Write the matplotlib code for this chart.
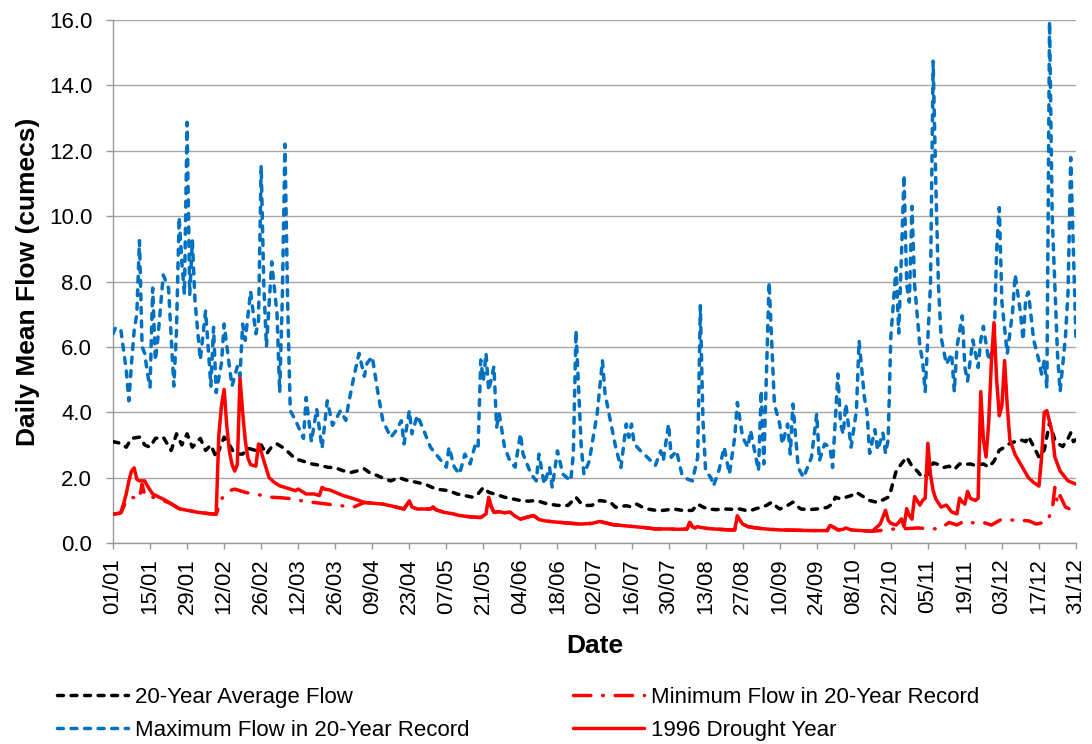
import numpy as np
import matplotlib.pyplot as plt

plt.rcParams['font.family'] = ['Liberation Sans', 'DejaVu Sans']

# day of year (0 = 01/01) and daily mean flow in cumecs
avg_day = [
    0, 3, 5, 7, 10, 12, 14, 16, 19, 22,
    24, 26, 28, 30, 33, 35, 37, 39, 42, 44,
    46, 49, 51, 54, 56, 58, 60, 62, 64, 66,
    69, 72, 75, 78, 81, 84, 87, 90, 92, 95,
    97, 100, 103, 105, 108, 111, 115, 118, 122, 125,
    127, 130, 133, 136, 138, 140, 142, 145, 148, 151,
    154, 157, 160, 164, 168, 172, 175, 177, 179, 181,
    184, 188, 190, 192, 194, 196, 198, 200, 202, 205,
    207, 210, 212, 215, 217, 219, 221, 223, 225, 228,
    231, 234, 237, 239, 241, 243, 245, 247, 249, 251,
    252, 254, 257, 259, 260, 263, 266, 268, 270, 272,
    273, 275, 277, 279, 281, 283, 286, 289, 291, 293,
    294, 296, 298, 300, 302, 304, 306, 308, 310, 312,
    314, 316, 318, 320, 322, 324, 326, 329, 331, 333,
    335, 337, 339, 341, 343, 345, 346, 348, 350, 352,
    354, 356, 358, 359, 361, 362, 363, 364]
avg_flow = [
    3.1, 3.05, 2.93, 3.2, 3.24, 3.0, 2.93, 3.2, 3.24, 2.83,
    3.34, 3.0, 3.34, 2.93, 3.2, 2.83, 3.0, 2.62, 3.24, 3.0,
    2.72, 2.72, 2.9, 2.83, 3.0, 2.72, 2.95, 3.03, 2.93, 2.8,
    2.57, 2.5, 2.42, 2.38, 2.32, 2.3, 2.21, 2.16, 2.2, 2.27,
    2.15, 2.06, 1.95, 1.9, 2.0, 1.92, 1.85, 1.8, 1.65, 1.62,
    1.6, 1.5, 1.45, 1.4, 1.5, 1.7, 1.55, 1.48, 1.4, 1.35,
    1.3, 1.28, 1.3, 1.2, 1.15, 1.15, 1.4, 1.2, 1.15, 1.15,
    1.3, 1.25, 1.09, 1.12, 1.14, 1.1, 1.19, 1.1, 1.04, 1.0,
    0.99, 1.02, 1.04, 1.0, 0.99, 1.0, 1.19, 1.1, 1.04, 1.02,
    1.04, 1.03, 1.04, 1.0, 0.99, 1.05, 1.09, 1.15, 1.25, 1.1,
    1.04, 1.1, 1.25, 1.1, 1.04, 1.02, 1.04, 1.06, 1.09, 1.2,
    1.4, 1.35, 1.4, 1.45, 1.55, 1.45, 1.3, 1.24, 1.32, 1.4,
    1.6, 2.2, 2.42, 2.63, 2.35, 2.2, 2.0, 2.1, 2.45, 2.4,
    2.31, 2.35, 2.25, 2.42, 2.4, 2.42, 2.37, 2.42, 2.32, 2.5,
    2.84, 2.93, 3.05, 3.1, 3.16, 3.1, 3.26, 2.95, 2.63, 2.84,
    3.68, 3.16, 3.0, 2.95, 3.2, 3.37, 3.1, 3.16]

max_day = [
    0, 1, 3, 5, 6, 7, 8, 9, 10, 11,
    12, 13, 14, 15, 16, 17, 19, 21, 22, 23,
    24, 25, 26, 27, 28, 29, 30, 31, 33, 35,
    37, 38, 39, 41, 42, 44, 45, 47, 48, 49,
    50, 52, 54, 55, 56, 57, 58, 60, 62, 63,
    64, 65, 66, 67, 69, 72, 73, 75, 77, 79,
    81, 83, 86, 88, 89, 91, 93, 95, 96, 98,
    100, 102, 105, 107, 109, 110, 112, 113, 115, 117,
    120, 124, 126, 127, 129, 131, 133, 135, 137, 138,
    139, 140, 141, 142, 144, 145, 146, 148, 150, 152,
    154, 155, 158, 160, 161, 163, 165, 166, 168, 170,
    173, 174, 175, 177, 178, 180, 183, 185, 186, 188,
    190, 192, 194, 195, 196, 197, 200, 202, 205, 207,
    208, 210, 211, 213, 215, 217, 219, 221, 222, 223,
    224, 226, 227, 229, 231, 233, 235, 236, 238, 240,
    241, 243, 244, 245, 246, 248, 250, 252, 253, 255,
    256, 257, 259, 261, 264, 266, 267, 269, 271, 272,
    274, 275, 276, 277, 279, 281, 282, 284, 285, 286,
    288, 289, 291, 292, 293, 294, 296, 297, 298, 299,
    300, 301, 302, 303, 305, 306, 307, 309, 310, 311,
    312, 313, 315, 317, 318, 319, 321, 322, 323, 325,
    327, 328, 329, 331, 333, 334, 335, 336, 338, 339,
    340, 341, 343, 344, 345, 346, 348, 350, 351, 352,
    353, 354, 355, 357, 358, 360, 361, 362, 363, 364]
max_flow = [
    6.4, 6.6, 6.5, 5.3, 4.35, 5.5, 6.5, 7.0, 9.25, 6.0,
    5.8, 5.2, 4.76, 7.8, 5.58, 6.3, 8.2, 7.8, 6.3, 4.8,
    6.5, 9.97, 8.6, 7.6, 12.87, 7.6, 9.25, 7.4, 5.6, 7.1,
    4.8, 6.6, 4.6, 5.5, 6.7, 5.4, 4.8, 5.4, 5.1, 6.7,
    6.2, 7.7, 6.4, 6.8, 11.55, 7.9, 6.0, 8.6, 7.0, 4.6,
    7.5, 12.2, 7.4, 4.05, 3.75, 3.2, 4.45, 3.1, 4.1, 2.9,
    4.35, 3.6, 4.05, 3.75, 4.25, 5.07, 5.8, 5.1, 5.5, 5.7,
    4.66, 3.74, 3.23, 3.44, 3.74, 3.03, 4.05, 3.34, 3.9, 3.54,
    2.93, 2.52, 2.32, 2.93, 2.32, 2.11, 2.72, 2.42, 3.03, 2.93,
    5.6, 4.97, 5.8, 4.66, 5.4, 3.54, 3.95, 2.93, 2.52, 2.32,
    3.34, 2.72, 2.11, 1.9, 2.72, 1.8, 2.32, 1.7, 2.82, 2.11,
    1.9, 2.72, 6.5, 2.93, 2.11, 2.5, 3.95, 5.58, 4.56, 3.74,
    2.93, 2.31, 3.64, 3.23, 3.64, 3.03, 2.77, 2.62, 2.37, 2.82,
    2.52, 3.64, 2.62, 2.82, 2.11, 1.96, 1.9, 2.62, 7.26, 3.74,
    2.21, 2.0, 1.75, 2.21, 2.93, 2.11, 3.23, 4.3, 3.23, 2.93,
    3.44, 2.62, 2.21, 4.66, 2.42, 7.98, 4.25, 3.64, 3.03, 3.64,
    2.72, 4.25, 2.31, 2.0, 2.62, 3.95, 2.52, 3.03, 2.93, 2.31,
    5.17, 3.64, 3.33, 4.25, 2.93, 4.05, 6.19, 4.46, 4.0, 2.74,
    3.47, 2.84, 3.37, 2.74, 3.16, 6.3, 8.42, 6.42, 8.74, 11.26,
    7.9, 7.37, 10.3, 7.9, 6.0, 5.58, 4.63, 7.9, 14.74, 11.05,
    7.9, 6.3, 5.47, 5.79, 4.63, 6.0, 6.95, 5.37, 4.95, 6.21,
    5.37, 6.21, 6.63, 5.58, 6.0, 8.95, 10.26, 7.37, 5.79, 6.42,
    7.05, 8.21, 7.05, 6.21, 7.47, 7.68, 6.21, 5.58, 5.16, 5.58,
    4.74, 15.95, 10.0, 5.79, 4.63, 6.3, 7.68, 11.79, 8.95, 6.2]

min_day = [
    0, 3, 4, 5, 7, 10, 11, 12, 15, 19,
    22, 24, 25, 28, 32, 36, 39, 41, 44, 46,
    50, 53, 57, 60, 64, 68, 72, 75, 80, 85,
    91, 95, 98, 102, 106, 110, 112, 113, 115, 118,
    120, 121, 122, 125, 128, 131, 135, 139, 141, 142,
    143, 144, 146, 148, 150, 152, 154, 157, 159, 161,
    163, 166, 169, 173, 177, 181, 184, 186, 189, 193,
    197, 201, 205, 210, 214, 217, 218, 219, 220, 221,
    222, 225, 229, 233, 235, 236, 237, 238, 240, 244,
    248, 252, 258, 264, 270, 271, 272, 274, 276, 277,
    279, 283, 287, 290, 292, 297, 300, 304, 310, 313,
    316, 319, 322, 326, 329, 332, 336, 340, 346, 349,
    353, 355, 356, 357, 358, 360, 364]
min_flow = [
    0.88, 0.92, 1.1, 1.3, 1.4, 1.35, 1.8, 1.45, 1.4, 1.3,
    1.2, 1.1, 1.05, 1.0, 0.94, 0.9, 0.88, 1.35, 1.6, 1.65,
    1.55, 1.5, 1.45, 1.4, 1.38, 1.35, 1.28, 1.25, 1.2, 1.15,
    1.1, 1.24, 1.22, 1.19, 1.12, 1.04, 1.29, 1.1, 1.04, 1.04,
    1.04, 1.1, 1.02, 0.94, 0.9, 0.84, 0.8, 0.78, 0.89, 1.4,
    1.1, 0.94, 0.96, 0.92, 0.95, 0.82, 0.73, 0.8, 0.84, 0.72,
    0.68, 0.65, 0.63, 0.6, 0.58, 0.6, 0.66, 0.62, 0.56, 0.53,
    0.5, 0.47, 0.43, 0.43, 0.42, 0.43, 0.63, 0.5, 0.46, 0.5,
    0.48, 0.44, 0.42, 0.4, 0.4, 0.83, 0.7, 0.58, 0.5, 0.45,
    0.42, 0.4, 0.39, 0.38, 0.38, 0.53, 0.5, 0.4, 0.42, 0.46,
    0.4, 0.38, 0.36, 0.38, 0.42, 0.43, 0.44, 0.46, 0.43, 0.45,
    0.63, 0.55, 0.68, 0.6, 0.63, 0.55, 0.73, 0.7, 0.68, 0.58,
    0.65, 1.0, 1.7, 1.2, 1.45, 1.1, 0.95]

dry_day = [
    0, 2, 3, 4, 5, 6, 7, 8, 9, 10,
    12, 13, 15, 18, 20, 22, 24, 25, 28, 32,
    36, 39, 40, 41, 42, 43, 44, 45, 46, 47,
    48, 49, 50, 51, 52, 54, 55, 56, 57, 59,
    61, 63, 65, 67, 69, 70, 71, 73, 76, 78,
    79, 80, 82, 85, 87, 90, 93, 95, 98, 102,
    106, 110, 112, 113, 115, 118, 120, 121, 122, 125,
    128, 131, 135, 139, 141, 142, 143, 144, 146, 148,
    150, 152, 154, 157, 159, 161, 163, 166, 169, 173,
    177, 181, 184, 186, 189, 193, 197, 201, 205, 210,
    214, 217, 218, 219, 220, 221, 222, 225, 229, 233,
    235, 236, 237, 238, 240, 244, 248, 252, 258, 264,
    270, 271, 272, 274, 276, 277, 279, 283, 287, 290,
    292, 293, 294, 296, 297, 298, 299, 300, 301, 302,
    303, 305, 306, 307, 308, 309, 310, 311, 313, 315,
    317, 319, 320, 321, 322, 323, 324, 326, 327, 328,
    329, 330, 331, 332, 333, 334, 335, 336, 337, 338,
    339, 341, 343, 346, 348, 350, 351, 352, 353, 355,
    356, 358, 359, 361, 364]
dry_flow = [
    0.89, 0.9, 0.94, 1.2, 1.5, 1.9, 2.2, 2.3, 1.95, 1.9,
    1.9, 1.75, 1.5, 1.38, 1.3, 1.2, 1.1, 1.05, 1.0, 0.94,
    0.9, 0.88, 3.3, 4.2, 4.7, 3.6, 2.8, 2.4, 2.2, 2.4,
    5.05, 4.0, 3.13, 2.6, 2.4, 2.35, 3.03, 2.8, 2.52, 2.0,
    1.85, 1.75, 1.7, 1.65, 1.6, 1.65, 1.6, 1.5, 1.5, 1.45,
    1.7, 1.65, 1.62, 1.52, 1.45, 1.38, 1.3, 1.24, 1.22, 1.19,
    1.12, 1.04, 1.29, 1.1, 1.04, 1.04, 1.04, 1.1, 1.02, 0.94,
    0.9, 0.84, 0.8, 0.78, 0.89, 1.4, 1.1, 0.94, 0.96, 0.92,
    0.95, 0.82, 0.73, 0.8, 0.84, 0.72, 0.68, 0.65, 0.63, 0.6,
    0.58, 0.6, 0.66, 0.62, 0.56, 0.53, 0.5, 0.47, 0.43, 0.43,
    0.42, 0.43, 0.63, 0.5, 0.46, 0.5, 0.48, 0.44, 0.42, 0.4,
    0.4, 0.83, 0.7, 0.58, 0.5, 0.45, 0.42, 0.4, 0.39, 0.38,
    0.38, 0.53, 0.5, 0.4, 0.42, 0.46, 0.4, 0.38, 0.36, 0.58,
    1.0, 0.7, 0.6, 0.55, 0.63, 0.74, 0.5, 1.05, 0.84, 0.73,
    1.42, 1.16, 1.3, 1.37, 3.05, 2.1, 1.6, 1.35, 1.1, 1.16,
    0.95, 0.89, 1.37, 1.26, 1.19, 1.58, 1.37, 1.3, 1.37, 4.63,
    3.16, 2.63, 3.68, 5.5, 6.74, 5.0, 3.89, 4.2, 5.58, 4.21,
    3.16, 2.7, 2.42, 2.0, 1.85, 1.74, 2.63, 4.0, 4.05, 3.37,
    2.63, 2.2, 2.1, 1.9, 1.8]

tick_labels = ['01/01', '15/01', '29/01', '12/02', '26/02', '12/03', '26/03',
               '09/04', '23/04', '07/05', '21/05', '04/06', '18/06', '02/07',
               '16/07', '30/07', '13/08', '27/08', '10/09', '24/09', '08/10',
               '22/10', '05/11', '19/11', '03/12', '17/12', '31/12']

W, H = 1092, 744
fig = plt.figure(figsize=(W / 100, H / 100), dpi=100)
ax = fig.add_axes([113 / W, 1 - 543 / H, (1076 - 113) / W, (543 - 20) / H])

dash = (0, (1.7, 2.2))
dashdot = (0, (5, 3.4, 0.2, 3.4))
l_avg, = ax.plot(avg_day, avg_flow, color='black', lw=2.5, linestyle=dash,
                 dash_capstyle='round', zorder=3)
l_min, = ax.plot(min_day, min_flow, color='#FF0000', lw=2.5, linestyle=dashdot,
                 dash_capstyle='round', zorder=3)
l_max, = ax.plot(max_day, max_flow, color='#0070C0', lw=2.5, linestyle=dash,
                 dash_capstyle='round', zorder=4)
l_dry, = ax.plot(dry_day, dry_flow, color='#FF0000', lw=2.5,
                 solid_capstyle='round', zorder=5)

ax.set_xlim(0, 364)
ax.set_ylim(0, 16)
ax.set_xticks(np.arange(0, 365, 14))
ax.set_xticklabels(tick_labels, rotation=90)
ax.set_yticks(np.arange(0, 17, 2))
ax.set_yticklabels(['%.1f' % v for v in np.arange(0, 17, 2)])
ax.tick_params(axis='x', length=4, width=1, color='#999999', labelsize=16, pad=7)
ax.tick_params(axis='y', length=5, width=1, color='#999999', labelsize=16, pad=10)

ax.yaxis.grid(True, color='#A6A6A6', lw=1.0)
ax.set_axisbelow(True)
for s in ['top', 'right']:
    ax.spines[s].set_visible(False)
for s in ['left', 'bottom']:
    ax.spines[s].set_color('#999999')
    ax.spines[s].set_linewidth(1.0)

ax.set_ylabel('Daily Mean Flow (cumecs)', fontsize=19, fontweight='bold', labelpad=6)
ax.set_xlabel('Date', fontsize=19, fontweight='bold', labelpad=14)

leg_kw = dict(loc='center left', frameon=False, fontsize=16, handlelength=3.2,
              handletextpad=0.3, labelspacing=0.55, borderpad=0, borderaxespad=0)
fig.legend([l_avg, l_max], ['20-Year Average Flow', 'Maximum Flow in 20-Year Record'],
           bbox_to_anchor=(57 / W, 1 - 714 / H), **leg_kw)
fig.legend([l_min, l_dry], ['Minimum Flow in 20-Year Record', '1996 Drought Year'],
           bbox_to_anchor=(573 / W, 1 - 714 / H), **leg_kw)

fig.savefig('out.png', dpi=100)
